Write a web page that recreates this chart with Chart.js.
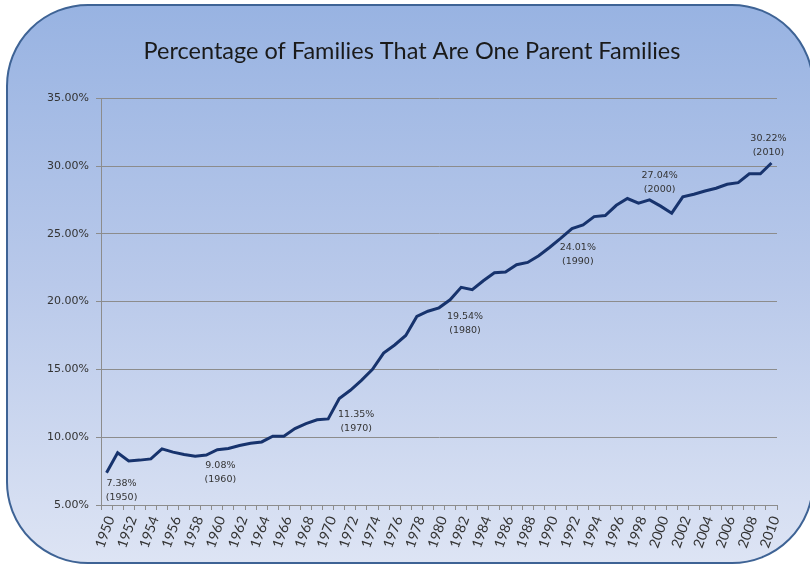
<!DOCTYPE html>
<html>
<head>
<meta charset="utf-8">
<script src="https://cdn.jsdelivr.net/npm/chart.js@4"></script>
<style>
  html, body { margin: 0; padding: 0; background: #ffffff; }
  #wrap { position: relative; width: 810px; height: 565px; overflow: hidden; }
  #card {
    position: absolute; left: 6px; top: 4px; width: 808px; height: 560px;
    box-sizing: border-box; border: 2px solid #3e6395; border-radius: 82px;
    background: linear-gradient(to bottom, #98b3e2 0%, #b9c9ea 50%, #dde4f4 100%);
  }
  #myChart { position: absolute; left: 0; top: 0; }
</style>
</head>
<body>
<div id="wrap">
  <div id="card"></div>
  <canvas id="myChart" width="810" height="565"></canvas>
</div>
<script>
const years = [
  "1950","1951","1952","1953","1954","1955","1956","1957","1958","1959",
  "1960","1961","1962","1963","1964","1965","1966","1967","1968","1969",
  "1970","1971","1972","1973","1974","1975","1976","1977","1978","1979",
  "1980","1981","1982","1983","1984","1985","1986","1987","1988","1989",
  "1990","1991","1992","1993","1994","1995","1996","1997","1998","1999",
  "2000","2001","2002","2003","2004","2005","2006","2007","2008","2009",
  "2010"
];
const onePercent = [
  7.38, 8.85, 8.24, 8.31, 8.40, 9.14, 8.90, 8.73, 8.60, 8.68,
  9.08, 9.17, 9.39, 9.56, 9.65, 10.07, 10.07, 10.64, 11.00, 11.28,
  11.35, 12.85, 13.46, 14.19, 15.00, 16.20, 16.80, 17.50, 18.90, 19.29,
  19.54, 20.13, 21.05, 20.88, 21.54, 22.13, 22.18, 22.72, 22.89, 23.38,
  24.01, 24.68, 25.39, 25.66, 26.27, 26.35, 27.10, 27.60, 27.26, 27.50,
  27.04, 26.52, 27.72, 27.92, 28.16, 28.36, 28.65, 28.77, 29.43, 29.43,
  30.22
];
const yTicks = [5, 10, 15, 20, 25, 30, 35];
const labelYears = ["1950", "1960", "1970", "1980", "1990", "2000", "2010"];

// where each callout sits relative to its point (dx, dy of the first line)
const calloutOffset = {
  "1950": [15, 11], "1960": [3, 16], "1970": [28, -4], "1980": [26, 9],
  "1990": [28, 0], "2000": [-1, -31], "2010": [-3, -24]
};

const callouts = {
  id: "callouts",
  afterDatasetsDraw(chart) {
    const ctx = chart.ctx;
    const meta = chart.getDatasetMeta(0);
    ctx.save();
    ctx.font = "9.5px 'DejaVu Sans'";
    ctx.fillStyle = "#333333";
    ctx.textAlign = "center";
    ctx.textBaseline = "middle";
    labelYears.forEach((y) => {
      const i = years.indexOf(y);
      const pt = meta.data[i];
      const off = calloutOffset[y];
      ctx.fillText(onePercent[i].toFixed(2) + "%", pt.x + off[0], pt.y + off[1]);
      ctx.fillText("(" + y + ")", pt.x + off[0], pt.y + off[1] + 14);
    });
    ctx.restore();
  }
};

new Chart("myChart", {
  type: "line",
  data: {
    labels: years,
    datasets: [{
      data: onePercent,
      borderColor: "#17336d",
      borderWidth: 3,
      pointRadius: 0,
      tension: 0,
      fill: false
    }]
  },
  options: {
    responsive: false,
    animation: false,
    devicePixelRatio: 1,
    layout: { padding: { left: 47, right: 33, top: 0, bottom: 0 } },
    plugins: {
      legend: { display: false },
      tooltip: { enabled: false },
      title: {
        display: true,
        text: "Percentage of Families That Are One Parent Families",
        color: "#1a1a1a",
        font: { family: "Lato", size: 23.5, weight: "normal" },
        padding: { top: 37, bottom: 33 }
      }
    },
    scales: {
      x: {
        offset: true,
        grid: { offset: true, drawOnChartArea: false, drawTicks: true, tickLength: 5, color: "#8c8c8c" },
        border: { color: "#8c8c8c" },
        ticks: {
          autoSkip: false,
          minRotation: 70,
          maxRotation: 70,
          labelOffset: 4,
          padding: 4,
          color: "#333333",
          font: { family: "Lato", size: 14 },
          callback: function (v, i) { return i % 2 === 0 ? years[i] : ""; }
        },
        afterFit: (scale) => { scale.height = 60; }
      },
      y: {
        min: 5,
        max: 35,
        grid: { color: "#8c8c8c", tickLength: 5 },
        border: { color: "#8c8c8c" },
        afterBuildTicks: (scale) => { scale.ticks = yTicks.map((v) => ({ value: v })); },
        ticks: {
          padding: 7,
          color: "#333333",
          font: { family: "DejaVu Sans", size: 11 },
          callback: (v) => v.toFixed(2) + "%"
        },
        afterFit: (scale) => { scale.width = 54; }
      }
    }
  },
  plugins: [callouts]
});
</script>
</body>
</html>
